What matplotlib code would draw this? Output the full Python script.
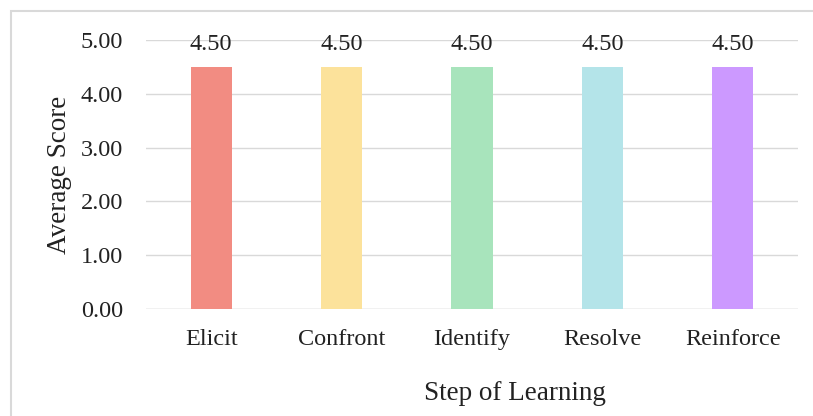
import matplotlib.pyplot as plt
from matplotlib.patches import Rectangle

plt.rcParams['font.family'] = ['Liberation Serif', 'DejaVu Serif']

steps = ['Elicit', 'Confront', 'Identify', 'Resolve', 'Reinforce']
scores = [4.50, 4.50, 4.50, 4.50, 4.50]
colors = ['#F28C82', '#FCE29B', '#A8E4BC', '#B4E4E9', '#CC99FF']
yticks = [0, 1, 2, 3, 4, 5]

W, H = 813, 416
fig = plt.figure(figsize=(W / 100, H / 100), dpi=100)
# plot area in pixels: x 146..798, y 40..309
ax = fig.add_axes([146 / W, 1 - 309 / H, (798 - 146) / W, (309 - 40) / H])

x = range(len(steps))
bars = ax.bar(x, scores, width=0.315, color=colors, zorder=3)
for b, v in zip(bars, scores):
    ax.text(b.get_x() + b.get_width() / 2, 4.81, f'{v:.2f}',
            ha='center', va='baseline', fontsize=17.5, color='#222222')

ax.set_xlim(-0.5, len(steps) - 0.5)
ax.set_ylim(0, 5)
ax.set_yticks(yticks)
ax.set_yticklabels([f'{t:.2f}' for t in yticks])
ax.set_xticks(list(x))
ax.set_xticklabels(steps, va='baseline')
ax.tick_params(length=0, labelsize=17.5, colors='#222222')
ax.tick_params(axis='y', pad=16.5)
ax.tick_params(axis='x', pad=26)
ax.grid(axis='y', color='#d9d9d9', linewidth=1, zorder=0)
for s in ax.spines.values():
    s.set_visible(False)
ax.axhline(0, color='#d9d9d9', linewidth=1, zorder=2)

fig.text(59 / W, 1 - 175 / H, 'Average Score', rotation=90, ha='center',
         va='center', fontsize=19.5, color='#222222')
fig.text(515 / W, 1 - 393 / H, 'Step of Learning', ha='center',
         va='center', fontsize=19.5, color='#222222')

fig.patches.append(Rectangle((11 / W, -0.1), 1.2, 1 - 11 / H + 0.1,
                             transform=fig.transFigure, fill=False,
                             edgecolor='#d9d9d9', linewidth=1.5))

fig.savefig('out.png', dpi=100)
